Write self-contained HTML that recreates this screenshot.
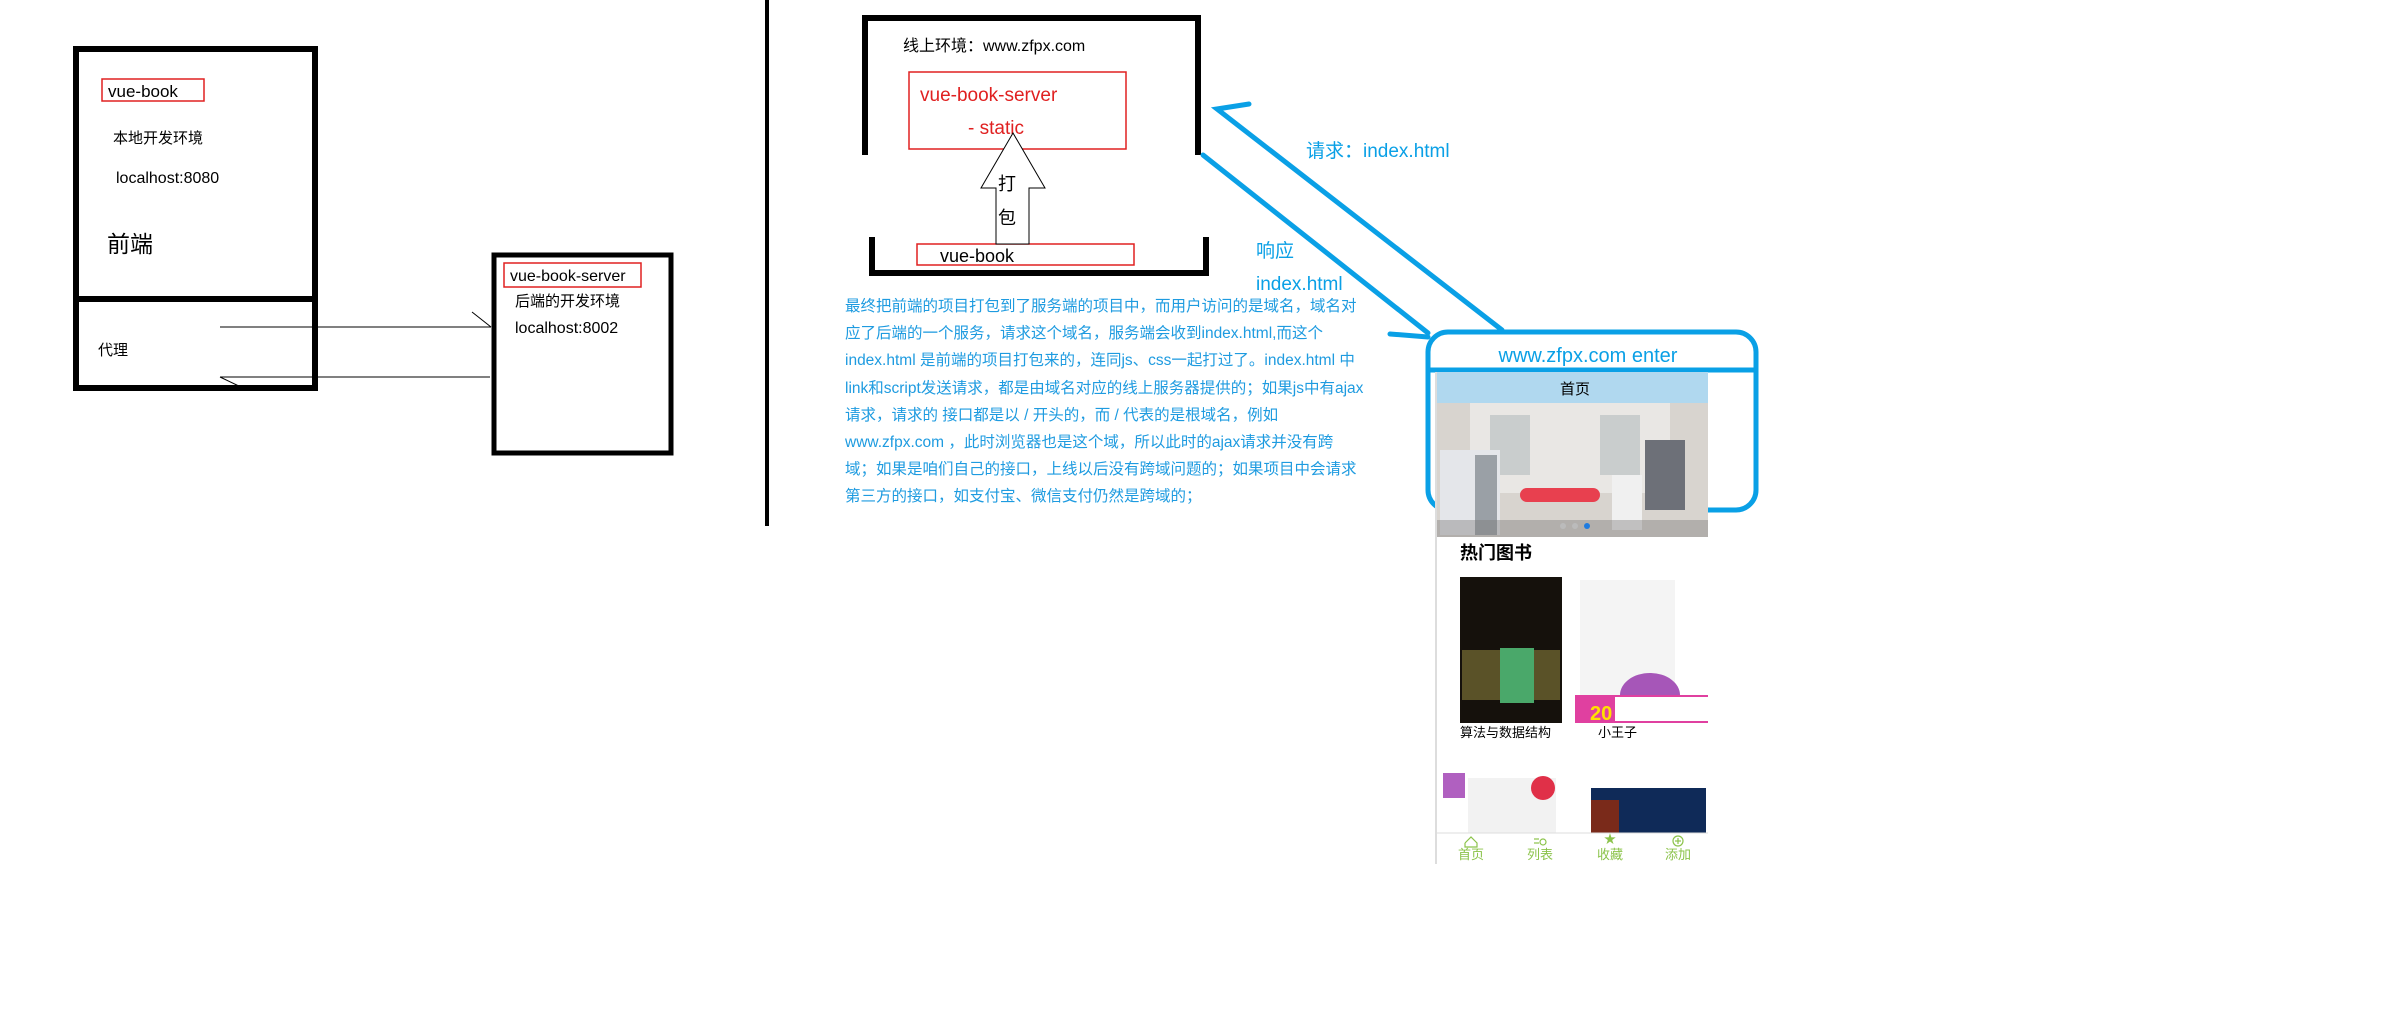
<!DOCTYPE html>
<html><head><meta charset="utf-8"><style>
html,body{margin:0;padding:0;background:#fff;}
svg{display:block;font-family:"Liberation Sans","Noto Sans CJK SC",sans-serif;}
</style></head><body>
<svg width="2400" height="1036" viewBox="0 0 2400 1036" xmlns="http://www.w3.org/2000/svg">
<!-- left front-end box -->
<rect x="76" y="49" width="239" height="339" fill="none" stroke="#000" stroke-width="6"/>
<line x1="76" y1="299" x2="315" y2="299" stroke="#000" stroke-width="6"/>
<rect x="102" y="79" width="102" height="22" fill="none" stroke="#e02020" stroke-width="1.5"/>
<text x="108" y="97" font-size="17">vue-book</text>
<text x="113" y="143" font-size="15">本地开发环境</text>
<text x="116" y="183" font-size="16">localhost:8080</text>
<text x="107" y="252" font-size="23">前端</text>
<text x="98" y="355" font-size="15">代理</text>
<!-- arrows -->
<line x1="220" y1="327" x2="491" y2="327" stroke="#000" stroke-width="1"/>
<line x1="472" y1="312" x2="491" y2="327" stroke="#000" stroke-width="1"/>
<line x1="220" y1="377" x2="490" y2="377" stroke="#000" stroke-width="1"/>
<line x1="220" y1="377" x2="243" y2="388" stroke="#000" stroke-width="1"/>
<!-- server box -->
<rect x="494" y="255" width="177" height="198" fill="none" stroke="#000" stroke-width="5"/>
<rect x="504" y="263" width="137" height="24" fill="none" stroke="#e02020" stroke-width="1.5"/>
<text x="510" y="281" font-size="16">vue-book-server</text>
<text x="515" y="306" font-size="15">后端的开发环境</text>
<text x="515" y="333" font-size="16">localhost:8002</text>
<!-- vertical separator -->
<line x1="767" y1="0" x2="767" y2="526" stroke="#000" stroke-width="4"/>
<!-- online box -->
<polyline points="865,155 865,18 1198,18 1198,155" fill="none" stroke="#000" stroke-width="6"/>
<text x="903" y="51" font-size="16">线上环境：www.zfpx.com</text>
<rect x="909" y="72" width="217" height="77" fill="none" stroke="#e02020" stroke-width="1.5"/>
<text x="920" y="101" font-size="19" fill="#e02020">vue-book-server</text>
<text x="968" y="134" font-size="19" fill="#e02020">- static</text>
<polyline points="872,237 872,273 1206,273 1206,237" fill="none" stroke="#000" stroke-width="6"/>
<rect x="917" y="244" width="217" height="21" fill="none" stroke="#e02020" stroke-width="1.5"/>
<text x="940" y="262" font-size="18">vue-book</text>
<polygon points="1013,133 1045,188 1029,188 1029,244 996,244 996,188 981,188" fill="#fff" stroke="#000" stroke-width="1"/>
<text x="998" y="190" font-size="18">打</text>
<text x="998" y="224" font-size="18">包</text>
<!-- blue connectors -->
<g stroke="#0aa0e6" stroke-width="5" fill="none" stroke-linecap="round">
<line x1="1203" y1="155" x2="1428" y2="333"/>
<polyline points="1249,104 1217,109 1502,330"/>
<line x1="1390" y1="334" x2="1428" y2="337"/>
</g>
<text x="1306" y="157" font-size="19" fill="#0aa0e6">请求：index.html</text>
<text x="1256" y="257" font-size="19" fill="#0aa0e6">响应</text>
<text x="1256" y="290" font-size="19" fill="#0aa0e6">index.html</text>
<g font-size="15.5" fill="#1e9be0">
<text x="845" y="311">最终把前端的项目打包到了服务端的项目中，而用户访问的是域名，域名对</text>
<text x="845" y="338">应了后端的一个服务，请求这个域名，服务端会收到index.html,而这个</text>
<text x="845" y="365">index.html 是前端的项目打包来的，连同js、css一起打过了。index.html 中</text>
<text x="845" y="393">link和script发送请求，都是由域名对应的线上服务器提供的；如果js中有ajax</text>
<text x="845" y="420">请求，请求的 接口都是以 / 开头的，而 / 代表的是根域名，例如</text>
<text x="845" y="447">www.zfpx.com ，此时浏览器也是这个域，所以此时的ajax请求并没有跨</text>
<text x="845" y="474">域；如果是咱们自己的接口，上线以后没有跨域问题的；如果项目中会请求</text>
<text x="845" y="501">第三方的接口，如支付宝、微信支付仍然是跨域的；</text>
</g>
<!-- enter box -->
<rect x="1428" y="332" width="328" height="178" rx="20" fill="none" stroke="#0aa0e6" stroke-width="5"/>
<line x1="1428" y1="370" x2="1756" y2="370" stroke="#0aa0e6" stroke-width="5"/>
<text x="1588" y="362" font-size="20" fill="#0aa0e6" text-anchor="middle">www.zfpx.com enter</text>
<!-- phone screenshot -->
<rect x="1435" y="372" width="273" height="492" fill="#fff"/>
<line x1="1436" y1="372" x2="1436" y2="864" stroke="#ddd" stroke-width="2"/>
<rect x="1437" y="372" width="271" height="31" fill="#b0d8ef"/>
<text x="1575" y="394" font-size="15" text-anchor="middle">首页</text>
<rect x="1437" y="403" width="271" height="134" fill="#d8d4cf"/>
<rect x="1470" y="403" width="200" height="90" fill="#e9e7e4"/>
<rect x="1490" y="415" width="40" height="60" fill="#c9cdcd"/>
<rect x="1600" y="415" width="40" height="60" fill="#c9cdcd"/>
<rect x="1440" y="450" width="60" height="85" fill="#e4e6ea"/>
<rect x="1475" y="455" width="22" height="80" fill="#9aa0a6"/>
<rect x="1612" y="475" width="30" height="55" fill="#f0f0f0"/>
<rect x="1645" y="440" width="40" height="70" fill="#6d7078"/>
<rect x="1520" y="488" width="80" height="14" rx="7" fill="#e8404f"/>
<rect x="1437" y="520" width="271" height="17" fill="#7a7878" opacity="0.4"/>
<circle cx="1563" cy="526" r="3" fill="#bbb"/><circle cx="1575" cy="526" r="3" fill="#bbb"/><circle cx="1587" cy="526" r="3" fill="#1e7be0"/>
<text x="1460" y="559" font-size="18" font-weight="bold">热门图书</text>
<rect x="1460" y="577" width="102" height="146" fill="#15110c"/>
<rect x="1462" y="650" width="98" height="50" fill="#5a5228"/>
<rect x="1500" y="648" width="34" height="55" fill="#4aa86a"/>
<rect x="1580" y="580" width="95" height="118" fill="#f4f4f4"/>
<ellipse cx="1650" cy="695" rx="30" ry="22" fill="#a656b8"/>
<rect x="1575" y="695" width="133" height="28" fill="#e040a0"/>
<rect x="1615" y="697" width="93" height="24" fill="#fff"/>
<text x="1590" y="720" font-size="20" font-weight="bold" fill="#ffe000">20</text>
<text x="1460" y="737" font-size="13">算法与数据结构</text>
<text x="1598" y="737" font-size="13">小王子</text>
<rect x="1468" y="778" width="88" height="55" fill="#f2f2f2"/>
<rect x="1443" y="773" width="22" height="25" fill="#b060c0"/>
<circle cx="1543" cy="788" r="12" fill="#e03048"/>
<rect x="1591" y="788" width="115" height="45" fill="#0f2a58"/>
<rect x="1591" y="800" width="28" height="33" fill="#7a2a1a"/>
<line x1="1437" y1="833" x2="1708" y2="833" stroke="#ddd" stroke-width="1"/>
<g fill="#8bc34a" font-size="13" text-anchor="middle">
<text x="1471" y="859">首页</text><text x="1540" y="859">列表</text><text x="1610" y="859">收藏</text><text x="1678" y="859">添加</text>
<text x="1610" y="843" font-size="12">★</text>
</g>
<g fill="none" stroke="#8bc34a" stroke-width="1.2">
<polyline points="1465,843 1471,837 1477,843 1477,847 1465,847 1465,843"/>
<circle cx="1543" cy="842" r="3"/><line x1="1534" y1="839" x2="1539" y2="839"/><line x1="1534" y1="843" x2="1539" y2="843"/>
<circle cx="1678" cy="841" r="5"/><line x1="1675" y1="841" x2="1681" y2="841"/><line x1="1678" y1="838" x2="1678" y2="844"/>
</g>
</svg>
</body></html>
